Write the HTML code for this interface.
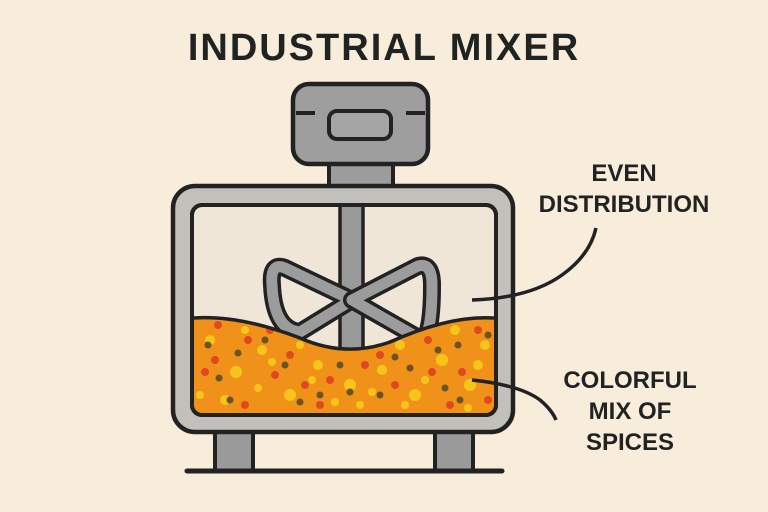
<!DOCTYPE html>
<html><head><meta charset="utf-8"><style>
html,body{margin:0;padding:0;background:#f8ecdb;}
svg{display:block}
text{font-family:"Liberation Sans",sans-serif;font-weight:bold;fill:#1f2321}
</style></head><body>
<svg width="768" height="512" viewBox="0 0 768 512" xmlns="http://www.w3.org/2000/svg">
<rect width="768" height="512" fill="#f8ecdb"/>
<text x="384" y="60" text-anchor="middle" font-size="38" letter-spacing="2">INDUSTRIAL MIXER</text>
<rect x="215" y="425" width="38" height="46" fill="#9a9a9a" stroke="#222" stroke-width="4"/>
<rect x="435" y="425" width="38" height="46" fill="#9a9a9a" stroke="#222" stroke-width="4"/>
<line x1="187" y1="471" x2="502" y2="471" stroke="#222" stroke-width="5" stroke-linecap="round"/>
<rect x="329" y="158" width="64" height="32" fill="#9c9c9c" stroke="#222" stroke-width="4"/>
<rect x="293" y="84" width="135" height="80" rx="16" fill="#9e9e9e" stroke="#222" stroke-width="4.5"/>
<rect x="329" y="111" width="62" height="28" rx="8" fill="#a5a5a5" stroke="#222" stroke-width="4"/>
<line x1="296" y1="113" x2="315" y2="113" stroke="#222" stroke-width="4"/>
<line x1="406" y1="113" x2="425" y2="113" stroke="#222" stroke-width="4"/>
<rect x="173" y="186" width="340" height="246" rx="22" fill="#c2c0bb" stroke="#222" stroke-width="4.5"/>
<rect x="192" y="205" width="304" height="210" rx="10" fill="#efe6d8" stroke="#222" stroke-width="4"/>
<rect x="340" y="205" width="23" height="150" fill="#9a9a9a" stroke="#222" stroke-width="3.5"/>
<path d="M352 300 L285 268 Q270 262 272 285 Q274 330 300 332 Z" fill="none" stroke="#222" stroke-width="18" stroke-linejoin="round"/>
<path d="M352 300 L285 268 Q270 262 272 285 Q274 330 300 332 Z" fill="none" stroke="#9c9c9c" stroke-width="11" stroke-linejoin="round"/>
<path d="M352 300 L418 266 Q432 262 432 285 Q432 335 422 340 Z" fill="none" stroke="#222" stroke-width="18" stroke-linejoin="round"/>
<path d="M352 300 L418 266 Q432 262 432 285 Q432 335 422 340 Z" fill="none" stroke="#9c9c9c" stroke-width="11" stroke-linejoin="round"/>
<clipPath id="c"><path d="M194 318 Q240 315 300 338 Q345 358 390 342 Q450 315 494 318 L494 413 L194 413 Z"/></clipPath>
<g clip-path="url(#c)">
<rect x="190" y="300" width="310" height="120" fill="#f0921a"/>
<g fill="#f7c519">
<circle cx="210" cy="340" r="5"/><circle cx="236" cy="372" r="6"/><circle cx="262" cy="350" r="5"/><circle cx="290" cy="395" r="6"/><circle cx="318" cy="365" r="5"/><circle cx="350" cy="385" r="6"/><circle cx="382" cy="370" r="5"/><circle cx="415" cy="395" r="6"/><circle cx="442" cy="360" r="6"/><circle cx="470" cy="385" r="6"/><circle cx="485" cy="345" r="5"/><circle cx="225" cy="400" r="5"/><circle cx="300" cy="345" r="4"/><circle cx="400" cy="345" r="5"/><circle cx="455" cy="330" r="5"/><circle cx="335" cy="402" r="4"/><circle cx="258" cy="388" r="4"/>
<circle cx="200" cy="395" r="4"/><circle cx="272" cy="362" r="4"/><circle cx="312" cy="380" r="4"/><circle cx="372" cy="392" r="4"/><circle cx="425" cy="380" r="4"/><circle cx="478" cy="365" r="5"/><circle cx="245" cy="330" r="4"/><circle cx="360" cy="405" r="4"/><circle cx="405" cy="405" r="4"/><circle cx="468" cy="408" r="4"/>
</g>
<g fill="#e0491f">
<circle cx="218" cy="325" r="4"/><circle cx="248" cy="340" r="4"/><circle cx="205" cy="372" r="4"/><circle cx="275" cy="375" r="4"/><circle cx="305" cy="385" r="4"/><circle cx="365" cy="365" r="4"/><circle cx="395" cy="385" r="4"/><circle cx="428" cy="340" r="4"/><circle cx="450" cy="405" r="4"/><circle cx="478" cy="330" r="4"/><circle cx="245" cy="405" r="4"/><circle cx="330" cy="380" r="4"/><circle cx="432" cy="372" r="4"/><circle cx="488" cy="400" r="4"/><circle cx="270" cy="330" r="4"/>
<circle cx="215" cy="360" r="4"/><circle cx="290" cy="355" r="4"/><circle cx="380" cy="355" r="4"/><circle cx="462" cy="372" r="4"/><circle cx="320" cy="405" r="4"/>
</g>
<g fill="#6b5324">
<circle cx="208" cy="345" r="3.5"/><circle cx="238" cy="353" r="3.5"/><circle cx="219" cy="378" r="3.5"/><circle cx="230" cy="400" r="3.5"/><circle cx="285" cy="365" r="3.5"/><circle cx="300" cy="402" r="3.5"/><circle cx="340" cy="365" r="3.5"/><circle cx="350" cy="392" r="3.5"/><circle cx="380" cy="395" r="3.5"/><circle cx="395" cy="357" r="3.5"/><circle cx="410" cy="368" r="3.5"/><circle cx="445" cy="388" r="3.5"/><circle cx="458" cy="345" r="3.5"/><circle cx="488" cy="335" r="3.5"/><circle cx="460" cy="400" r="3.5"/><circle cx="265" cy="340" r="3.5"/><circle cx="320" cy="395" r="3.5"/><circle cx="438" cy="350" r="3.5"/>
</g>
</g>
<path d="M194 318 Q240 315 300 338 Q345 358 390 342 Q450 315 494 318" fill="none" stroke="#222" stroke-width="3.5"/>
<rect x="192" y="205" width="304" height="210" rx="10" fill="none" stroke="#222" stroke-width="4"/>
<path d="M472 300 Q530 298 562 275 Q590 255 596 228" fill="none" stroke="#222" stroke-width="3.5"/>
<path d="M472 380 Q520 385 540 400 Q552 410 556 420" fill="none" stroke="#222" stroke-width="3.5"/>
<text x="624" y="181" text-anchor="middle" font-size="24">EVEN</text>
<text x="624" y="212" text-anchor="middle" font-size="24">DISTRIBUTION</text>
<text x="630" y="388" text-anchor="middle" font-size="24">COLORFUL</text>
<text x="630" y="419" text-anchor="middle" font-size="24">MIX OF</text>
<text x="630" y="450" text-anchor="middle" font-size="24">SPICES</text>
</svg>
</body></html>
